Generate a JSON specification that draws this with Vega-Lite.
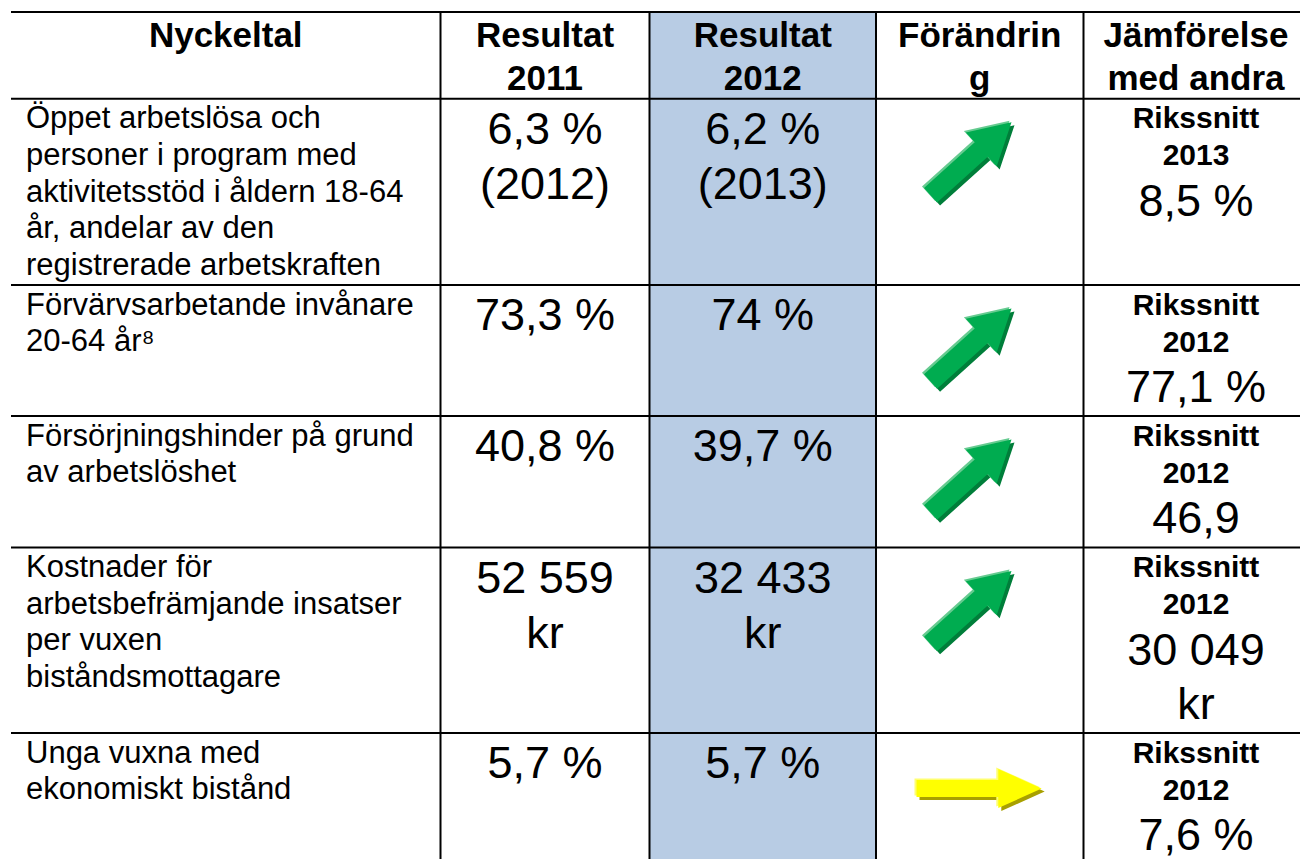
{
  "$schema": "https://vega.github.io/schema/vega-lite/v6.json",
  "width": 1300,
  "height": 859,
  "autosize": {"type": "none"},
  "padding": 0,
  "background": "white",
  "config": {"view": {"stroke": null}, "font": "Liberation Sans"},
  "datasets": {
    "columns": [
      {"c": 0, "end": 1, "head": ["Nyckeltal"], "hl": 0},
      {"c": 1, "end": 2, "head": ["Resultat", "2011"], "hl": 0},
      {"c": 2, "end": 3, "head": ["Resultat", "2012"], "hl": 1},
      {"c": 3, "end": 4, "head": ["Förändrin", "g"], "hl": 0},
      {"c": 4, "end": 5, "head": ["Jämförelse", "med andra"], "hl": 0}
    ],
    "rows": [
      {"r": 1, "label": ["Öppet arbetslösa och", "personer i program med", "aktivitetsstöd i åldern 18-64", "år, andelar av den", "registrerade arbetskraften"], "trend": "upp", "ref": ["Rikssnitt", "2013"], "refValue": ["8,5 %"]},
      {"r": 2, "label": ["Förvärvsarbetande invånare", "20-64 år⁸"], "trend": "upp", "ref": ["Rikssnitt", "2012"], "refValue": ["77,1 %"]},
      {"r": 3, "label": ["Försörjningshinder på grund", "av arbetslöshet"], "trend": "upp", "ref": ["Rikssnitt", "2012"], "refValue": ["46,9"]},
      {"r": 4, "label": ["Kostnader för", "arbetsbefrämjande insatser", "per vuxen", "biståndsmottagare"], "trend": "upp", "ref": ["Rikssnitt", "2012"], "refValue": ["30 049", "kr"]},
      {"r": 5, "label": ["Unga vuxna med", "ekonomiskt bistånd"], "trend": "oförändrad", "ref": ["Rikssnitt", "2012"], "refValue": ["7,6 %"]}
    ],
    "results": [
      {"r": 1, "c": 1, "text": ["6,3 %", "(2012)"]},
      {"r": 1, "c": 2, "text": ["6,2 %", "(2013)"]},
      {"r": 2, "c": 1, "text": ["73,3 %"]},
      {"r": 2, "c": 2, "text": ["74 %"]},
      {"r": 3, "c": 1, "text": ["40,8 %"]},
      {"r": 3, "c": 2, "text": ["39,7 %"]},
      {"r": 4, "c": 1, "text": ["52 559", "kr"]},
      {"r": 4, "c": 2, "text": ["32 433", "kr"]},
      {"r": 5, "c": 1, "text": ["5,7 %"]},
      {"r": 5, "c": 2, "text": ["5,7 %"]}
    ]
  },
  "resolve": {"scale": {"x": "independent", "fill": "independent"}},
  "layer": [
    {
      "data": {"name": "columns"},
      "transform": [{"filter": "datum.hl == 1"}],
      "mark": {"type": "rect", "color": "#B8CCE4"},
      "encoding": {
        "x": {"field": "c", "type": "quantitative", "axis": null, "scale": {"type": "linear", "domain": [0, 1, 2, 3, 4, 5], "range": [11, 440.5, 649.5, 876, 1083.5, 1310], "nice": false, "zero": false}},
        "x2": {"field": "end"},
        "y": {"datum": 0, "type": "quantitative", "axis": null, "scale": {"type": "linear", "domain": [0, 1, 2, 3, 4, 5, 6], "range": [12, 98.7, 285, 416, 547.5, 733, 859], "nice": false, "zero": false}},
        "y2": {"datum": 6}
      }
    },
    {
      "data": {"name": "columns"},
      "mark": {"type": "text", "fontWeight": "bold", "fontSize": 35, "align": "center", "baseline": "alphabetic", "lineHeight": 43.3, "yOffset": 34.7, "color": "black"},
      "encoding": {
        "x": {"field": "c", "type": "quantitative", "axis": null, "scale": {"type": "linear", "domain": [0, 1, 2, 3, 4], "range": [225.75, 545, 762.75, 979.75, 1196], "nice": false, "zero": false}},
        "y": {"datum": 0, "type": "quantitative", "axis": null, "scale": {"type": "linear", "domain": [0, 1, 2, 3, 4, 5, 6], "range": [12, 98.7, 285, 416, 547.5, 733, 859], "nice": false, "zero": false}},
        "text": {"field": "head", "type": "nominal"}
      }
    },
    {
      "data": {"name": "rows"},
      "mark": {"type": "text", "fontSize": 31, "align": "left", "baseline": "alphabetic", "lineHeight": 36.7, "xOffset": 15, "yOffset": 29.5, "color": "black"},
      "encoding": {
        "x": {"datum": 0, "type": "quantitative", "axis": null, "scale": {"type": "linear", "domain": [0, 1, 2, 3, 4, 5], "range": [11, 440.5, 649.5, 876, 1083.5, 1310], "nice": false, "zero": false}},
        "y": {"field": "r", "type": "quantitative", "axis": null, "scale": {"type": "linear", "domain": [0, 1, 2, 3, 4, 5, 6], "range": [12, 98.7, 285, 416, 547.5, 733, 859], "nice": false, "zero": false}},
        "text": {"field": "label", "type": "nominal"}
      }
    },
    {
      "data": {"name": "results"},
      "mark": {"type": "text", "fontSize": 45, "align": "center", "baseline": "alphabetic", "lineHeight": 55, "yOffset": 45, "color": "black"},
      "encoding": {
        "x": {"field": "c", "type": "quantitative", "axis": null, "scale": {"type": "linear", "domain": [0, 1, 2, 3, 4], "range": [225.75, 545, 762.75, 979.75, 1196], "nice": false, "zero": false}},
        "y": {"field": "r", "type": "quantitative", "axis": null, "scale": {"type": "linear", "domain": [0, 1, 2, 3, 4, 5, 6], "range": [12, 98.7, 285, 416, 547.5, 733, 859], "nice": false, "zero": false}},
        "text": {"field": "text", "type": "nominal"}
      }
    },
    {
      "data": {"name": "rows"},
      "mark": {"type": "text", "fontSize": 30, "fontWeight": "bold", "align": "center", "baseline": "alphabetic", "lineHeight": 37, "yOffset": 29.5, "color": "black"},
      "encoding": {
        "x": {"datum": 4, "type": "quantitative", "axis": null, "scale": {"type": "linear", "domain": [0, 1, 2, 3, 4], "range": [225.75, 545, 762.75, 979.75, 1196], "nice": false, "zero": false}},
        "y": {"field": "r", "type": "quantitative", "axis": null, "scale": {"type": "linear", "domain": [0, 1, 2, 3, 4, 5, 6], "range": [12, 98.7, 285, 416, 547.5, 733, 859], "nice": false, "zero": false}},
        "text": {"field": "ref", "type": "nominal"}
      }
    },
    {
      "data": {"name": "rows"},
      "mark": {"type": "text", "fontSize": 45, "align": "center", "baseline": "alphabetic", "lineHeight": 54.5, "yOffset": 117, "color": "black"},
      "encoding": {
        "x": {"datum": 4, "type": "quantitative", "axis": null, "scale": {"type": "linear", "domain": [0, 1, 2, 3, 4], "range": [225.75, 545, 762.75, 979.75, 1196], "nice": false, "zero": false}},
        "y": {"field": "r", "type": "quantitative", "axis": null, "scale": {"type": "linear", "domain": [0, 1, 2, 3, 4, 5, 6], "range": [12, 98.7, 285, 416, 547.5, 733, 859], "nice": false, "zero": false}},
        "text": {"field": "refValue", "type": "nominal"}
      }
    },
    {
      "data": {"name": "columns"},
      "transform": [{"filter": "datum.c > 0"}],
      "mark": {"type": "rule", "color": "black", "strokeWidth": 2},
      "encoding": {
        "x": {"field": "c", "type": "quantitative", "axis": null, "scale": {"type": "linear", "domain": [0, 1, 2, 3, 4, 5], "range": [11, 440.5, 649.5, 876, 1083.5, 1310], "nice": false, "zero": false}},
        "y": {"datum": 0, "type": "quantitative", "axis": null, "scale": {"type": "linear", "domain": [0, 1, 2, 3, 4, 5, 6], "range": [12, 98.7, 285, 416, 547.5, 733, 859], "nice": false, "zero": false}},
        "y2": {"datum": 6}
      }
    },
    {
      "data": {"name": "rows"},
      "mark": {"type": "rule", "color": "black", "strokeWidth": 2},
      "encoding": {
        "x": {"datum": 0, "type": "quantitative", "axis": null, "scale": {"type": "linear", "domain": [0, 1, 2, 3, 4, 5], "range": [11, 440.5, 649.5, 876, 1083.5, 1310], "nice": false, "zero": false}},
        "x2": {"datum": 5},
        "y": {"field": "r", "type": "quantitative", "axis": null, "scale": {"type": "linear", "domain": [0, 1, 2, 3, 4, 5, 6], "range": [12, 98.7, 285, 416, 547.5, 733, 859], "nice": false, "zero": false}}
      }
    },
    {
      "data": {"name": "columns"},
      "transform": [{"filter": "datum.c == 0"}],
      "mark": {"type": "rule", "color": "black", "strokeWidth": 2},
      "encoding": {
        "x": {"datum": 0, "type": "quantitative", "axis": null, "scale": {"type": "linear", "domain": [0, 1, 2, 3, 4, 5], "range": [11, 440.5, 649.5, 876, 1083.5, 1310], "nice": false, "zero": false}},
        "x2": {"datum": 5},
        "y": {"datum": 0, "type": "quantitative", "axis": null, "scale": {"type": "linear", "domain": [0, 1, 2, 3, 4, 5, 6], "range": [12, 98.7, 285, 416, 547.5, 733, 859], "nice": false, "zero": false}}
      }
    },
    {
      "data": {"name": "rows"},
      "mark": {"type": "point", "filled": true, "opacity": 1, "strokeWidth": 0, "size": 10000, "xOffset": 3, "yOffset": 61},
      "encoding": {
        "x": {"datum": 3, "type": "quantitative", "axis": null, "scale": {"type": "linear", "domain": [0, 1, 2, 3, 4], "range": [225.75, 545, 762.75, 979.75, 1196], "nice": false, "zero": false}},
        "y": {"field": "r", "type": "quantitative", "axis": null, "scale": {"type": "linear", "domain": [0, 1, 2, 3, 4, 5, 6], "range": [12, 98.7, 285, 416, 547.5, 733, 859], "nice": false, "zero": false}},
        "shape": {"field": "trend", "type": "nominal", "legend": null, "scale": {"domain": ["upp", "oförändrad"], "range": ["M-1.115,0.624L-0.1,-0.289L-0.278,-0.486L0.635,-0.689L0.338,0.197L0.16,0L-0.854,0.914Z", "M-1.265,-0.22L0.371,-0.22L0.371,-0.44L1.239,-0.05L0.371,0.34L0.371,0.12L-1.265,0.12Z"]}},
        "fill": {"field": "trend", "type": "nominal", "legend": null, "scale": {"domain": ["upp", "oförändrad"], "range": ["#007E3A", "#A8A000"]}}
      }
    },
    {
      "data": {"name": "rows"},
      "mark": {"type": "point", "filled": true, "opacity": 1, "strokeWidth": 0, "size": 10000, "xOffset": -2, "yOffset": 56.5},
      "encoding": {
        "x": {"datum": 3, "type": "quantitative", "axis": null, "scale": {"type": "linear", "domain": [0, 1, 2, 3, 4], "range": [225.75, 545, 762.75, 979.75, 1196], "nice": false, "zero": false}},
        "y": {"field": "r", "type": "quantitative", "axis": null, "scale": {"type": "linear", "domain": [0, 1, 2, 3, 4, 5, 6], "range": [12, 98.7, 285, 416, 547.5, 733, 859], "nice": false, "zero": false}},
        "shape": {"field": "trend", "type": "nominal", "legend": null, "scale": {"domain": ["upp", "oförändrad"], "range": ["M-1.115,0.624L-0.1,-0.289L-0.278,-0.486L0.635,-0.689L0.338,0.197L0.16,0L-0.854,0.914Z", "M-1.265,-0.22L0.371,-0.22L0.371,-0.44L1.239,-0.05L0.371,0.34L0.371,0.12L-1.265,0.12Z"]}},
        "fill": {"field": "trend", "type": "nominal", "legend": null, "scale": {"domain": ["upp", "oförändrad"], "range": ["#66CB90", "#FFFF70"]}}
      }
    },
    {
      "data": {"name": "rows"},
      "mark": {"type": "point", "filled": true, "opacity": 1, "strokeWidth": 0, "size": 10000, "yOffset": 58},
      "encoding": {
        "x": {"datum": 3, "type": "quantitative", "axis": null, "scale": {"type": "linear", "domain": [0, 1, 2, 3, 4], "range": [225.75, 545, 762.75, 979.75, 1196], "nice": false, "zero": false}},
        "y": {"field": "r", "type": "quantitative", "axis": null, "scale": {"type": "linear", "domain": [0, 1, 2, 3, 4, 5, 6], "range": [12, 98.7, 285, 416, 547.5, 733, 859], "nice": false, "zero": false}},
        "shape": {"field": "trend", "type": "nominal", "legend": null, "scale": {"domain": ["upp", "oförändrad"], "range": ["M-1.115,0.624L-0.1,-0.289L-0.278,-0.486L0.635,-0.689L0.338,0.197L0.16,0L-0.854,0.914Z", "M-1.265,-0.22L0.371,-0.22L0.371,-0.44L1.239,-0.05L0.371,0.34L0.371,0.12L-1.265,0.12Z"]}},
        "fill": {"field": "trend", "type": "nominal", "legend": null, "scale": {"domain": ["upp", "oförändrad"], "range": ["#00AC50", "#FFFF00"]}}
      }
    }
  ]
}
